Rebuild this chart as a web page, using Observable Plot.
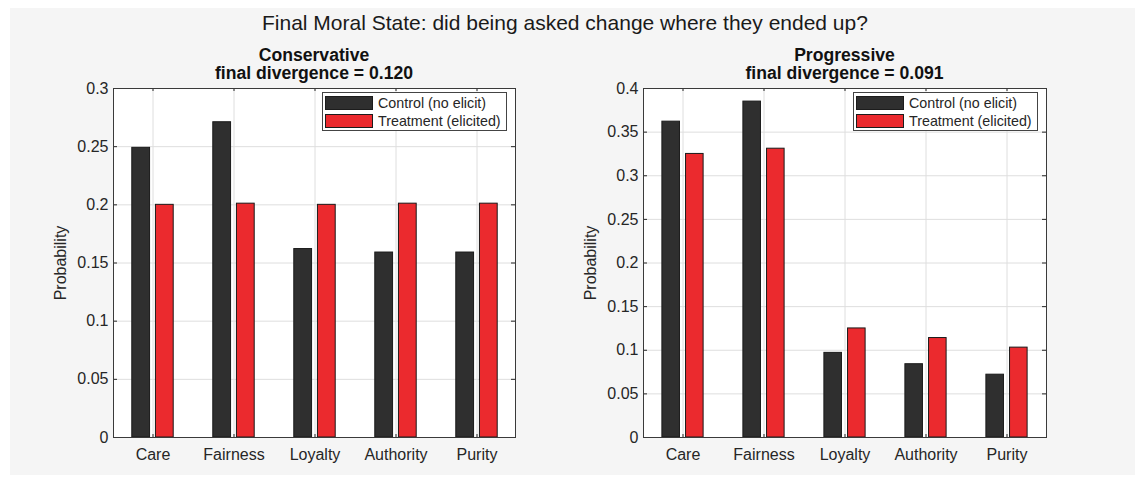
<!DOCTYPE html>
<html>
<head>
<meta charset="utf-8">
<script src="https://cdn.jsdelivr.net/npm/d3@7"></script>
<script src="https://cdn.jsdelivr.net/npm/@observablehq/plot@0.6"></script>
<style>
  html, body { margin: 0; padding: 0; background: #ffffff; }
  #root { position: relative; width: 1144px; height: 484px; overflow: hidden;
          font-family: "Liberation Sans", Arial, Helvetica, sans-serif; color: #262626; }
  #panel-bg { position: absolute; left: 10px; top: 8px; width: 1125px; height: 467px; background: #f5f5f5; }
  .abs { position: absolute; }
  #main-title { left: 262px; width: 600px; top: 11px; text-align: center; font-size: 21px; line-height: 24px; color: #1a1a1a; white-space: nowrap; }
  .panel-title { text-align: center; font-weight: bold; font-size: 17.6px; line-height: 18px; color: #111; white-space: nowrap; }
  .legend { box-sizing: border-box; height: 39px; border: 1px solid #444; background: #fff; }
  .legend-row { position: absolute; left: 2px; height: 14px; display: flex; align-items: center; white-space: nowrap; font-size: 14.3px; color: #262626; }
  .swatch { box-sizing: border-box; width: 48px; height: 14px; border: 1px solid #1c1c1c; margin-right: 5px; }
</style>
</head>
<body>
<div id="root">
  <div id="panel-bg"></div>
</div>
<script>
// Moral foundations shown on the x axis
const categories = ["Care", "Fairness", "Loyalty", "Authority", "Purity"];
const seriesNames = ["Control (no elicit)", "Treatment (elicited)"];
const seriesColors = ["#2f2f2f", "#eb2a2e"];

// Final probability over the foundations, per group and condition
const conservativeControl   = [0.249, 0.271, 0.162, 0.159, 0.159];
const conservativeTreatment = [0.200, 0.201, 0.200, 0.201, 0.201];
const progressiveControl    = [0.362, 0.385, 0.097, 0.084, 0.072];
const progressiveTreatment  = [0.325, 0.331, 0.125, 0.114, 0.103];

const panelNames = ["Conservative", "Progressive"];
const finalDivergence = [0.120, 0.091];

const conservativeTicks = [0, 0.05, 0.1, 0.15, 0.2, 0.25, 0.3];
const progressiveTicks  = [0, 0.05, 0.1, 0.15, 0.2, 0.25, 0.3, 0.35, 0.4];

const mainTitle = "Final Moral State: did being asked change where they ended up?";

const root = document.getElementById("root");

function addDiv(cls, style, text) {
  const d = document.createElement("div");
  d.className = cls;
  Object.assign(d.style, style);
  if (text != null) d.textContent = text;
  root.appendChild(d);
  return d;
}

addDiv("abs", {}, mainTitle).id = "main-title";

// One panel: grouped bars, boxed axes with inward ticks, title and legend
function drawPanel({left, marginLeft, marginRight, control, treatment, ticks, name, divergence}) {
  const W = 572, H = 484, mt = 88, mb = 47;
  const plotW = W - marginLeft - marginRight;
  const plotH = H - mt - mb;
  const paddingOuter = -0.024;
  const bw = plotW / (categories.length + 2 * paddingOuter);
  const half = bw / 2;
  const outer = 20.8, inner = 2.85;

  const rows = categories.flatMap((c, i) => [
    {category: c, series: seriesNames[0], value: control[i]},
    {category: c, series: seriesNames[1], value: treatment[i]}
  ]);

  const chart = Plot.plot({
    width: W,
    height: H,
    marginLeft, marginRight, marginTop: mt, marginBottom: mb,
    style: {background: "transparent", fontFamily: '"Liberation Sans", Arial, sans-serif', fontSize: "16px", color: "#262626"},
    x: {type: "band", domain: categories, paddingInner: 0, paddingOuter, align: 0.5},
    y: {domain: [0, ticks[ticks.length - 1]]},
    marks: [
      Plot.frame({fill: "white", stroke: "none"}),
      Plot.gridY(ticks, {stroke: "#dedede", strokeOpacity: 1}),
      Plot.gridX({stroke: "#dedede", strokeOpacity: 1}),
      Plot.barY(rows.filter(d => d.series === seriesNames[0]), {
        x: "category", y: "value", fill: seriesColors[0], stroke: "#1a1a1a", strokeWidth: 1,
        insetLeft: half - outer, insetRight: half + inner
      }),
      Plot.barY(rows.filter(d => d.series === seriesNames[1]), {
        x: "category", y: "value", fill: seriesColors[1], stroke: "#1a1a1a", strokeWidth: 1,
        insetLeft: half + inner, insetRight: half - outer
      }),
      Plot.tickY(ticks, {y: d => d, insetRight: plotW - 4, stroke: "#262626"}),
      Plot.tickY(ticks, {y: d => d, insetLeft: plotW - 4, stroke: "#262626"}),
      Plot.tickX(categories, {x: d => d, insetTop: plotH - 3, stroke: "#262626"}),
      Plot.tickX(categories, {x: d => d, insetBottom: plotH - 3, stroke: "#262626"}),
      Plot.axisY({
        ticks, tickSize: 0, tickPadding: 5, tickFormat: d => String(d),
        label: "Probability", labelAnchor: "center", labelOffset: 59, labelArrow: "none"
      }),
      Plot.axisX({tickSize: 0, tickPadding: 11, label: null}),
      Plot.frame({stroke: "#3a3a3a", strokeWidth: 1})
    ]
  });
  const holder = addDiv("abs", {left: left + "px", top: "0px"});
  holder.appendChild(chart);

  // Panel title, centred over the plot frame
  const fx = left + marginLeft;
  addDiv("abs panel-title", {left: fx + "px", width: plotW + "px", top: "46px"}, name);
  addDiv("abs panel-title", {left: fx + "px", width: plotW + "px", top: "64px"},
    "final divergence = " + divergence.toFixed(3));

  // Legend box in the upper-right corner of the frame
  const lgW = 185;
  const lg = addDiv("abs legend", {left: (fx + plotW - 8 - lgW) + "px", top: "92px", width: lgW + "px"});
  seriesNames.forEach((s, i) => {
    const row = document.createElement("div");
    row.className = "legend-row";
    row.style.top = (i === 0 ? 3 : 21) + "px";
    const sw = document.createElement("div");
    sw.className = "swatch";
    sw.style.background = seriesColors[i];
    row.appendChild(sw);
    const t = document.createElement("span");
    t.textContent = s;
    row.appendChild(t);
    lg.appendChild(row);
  });
}

drawPanel({left: 0, marginLeft: 113, marginRight: 57,
  control: conservativeControl, treatment: conservativeTreatment,
  ticks: conservativeTicks, name: panelNames[0], divergence: finalDivergence[0]});
drawPanel({left: 572, marginLeft: 71, marginRight: 98,
  control: progressiveControl, treatment: progressiveTreatment,
  ticks: progressiveTicks, name: panelNames[1], divergence: finalDivergence[1]});
</script>
</body>
</html>
